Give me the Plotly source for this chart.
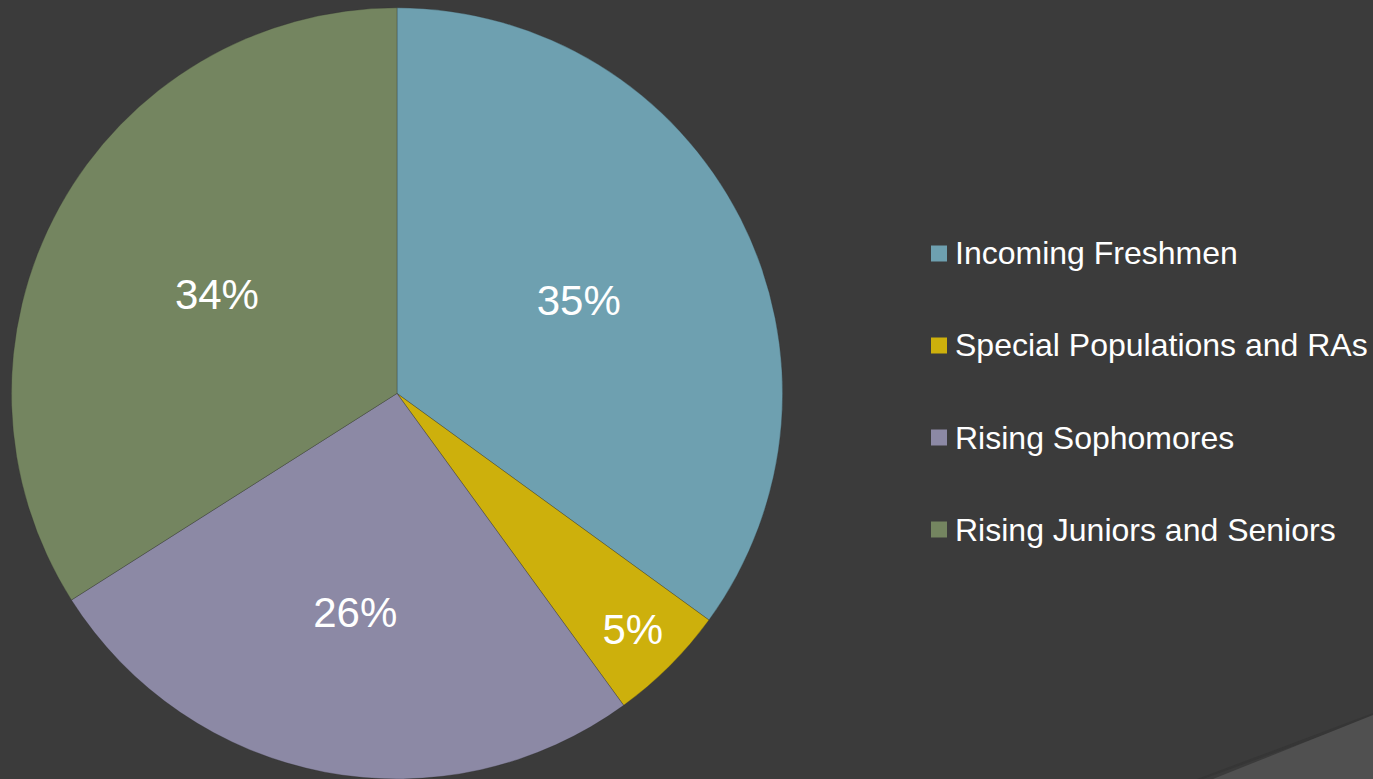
import plotly.graph_objects as go

labels = ["Incoming Freshmen", "Special Populations and RAs", "Rising Sophomores", "Rising Juniors and Seniors"]
values = [35, 5, 26, 34]
colors = ["#6ea0b0", "#cdb00c", "#8c89a5", "#748560"]

W, H = 1373, 779
BG = "#3b3b3b"
FONT = "Liberation Sans, Arial, sans-serif"

fig = go.Figure()
fig.add_trace(go.Pie(
    labels=labels,
    values=values,
    sort=False,
    direction="clockwise",
    rotation=0,
    marker=dict(colors=colors, line=dict(color="rgba(40,40,40,0.35)", width=0.8)),
    textinfo="percent",
    texttemplate="%{percent:.0%}",
    textposition="inside",
    insidetextorientation="horizontal",
    textfont=dict(family=FONT, size=42, color="white"),
    domain=dict(x=[10 / W, 784 / W], y=[0, 0.99]),
    showlegend=False,
    hoverinfo="label+percent",
))

shapes = []
annotations = []
# decorative corner shape
shapes.append(dict(type="path", xref="paper", yref="paper",
                   path=f"M {1203/W} 0 L 1 {1-717/H} L 1 {1-713/H} L {1197/W} 0 Z",
                   fillcolor="rgba(25,25,25,0.15)", line=dict(width=0), layer="below"))
shapes.append(dict(type="path", xref="paper", yref="paper",
                   path=f"M {1213/W} 0 L 1 {1-715/H} L 1 0 Z",
                   fillcolor="#505050", line=dict(width=0), layer="below"))

# legend
leg_x0 = 931
leg_y0 = 253.5
leg_dy = 92
sq = 16
for i, (lab, col) in enumerate(zip(labels, colors)):
    yc = leg_y0 + i * leg_dy
    shapes.append(dict(type="rect", xref="paper", yref="paper",
                       x0=leg_x0 / W, x1=(leg_x0 + sq) / W,
                       y0=1 - (yc + sq / 2) / H, y1=1 - (yc - sq / 2) / H,
                       fillcolor=col, line=dict(width=0)))
    annotations.append(dict(x=(leg_x0 + sq + 6) / W, y=1 - yc / H, xref="paper", yref="paper",
                            text=lab, showarrow=False, xanchor="left", yanchor="middle",
                            xshift=0, font=dict(family=FONT, size=32, color="white")))

fig.update_layout(
    width=W, height=H,
    margin=dict(l=0, r=0, t=0, b=0),
    paper_bgcolor=BG, plot_bgcolor=BG,
    shapes=shapes, annotations=annotations,
    font=dict(family=FONT, color="white"),
)
fig.write_html("out.html")
